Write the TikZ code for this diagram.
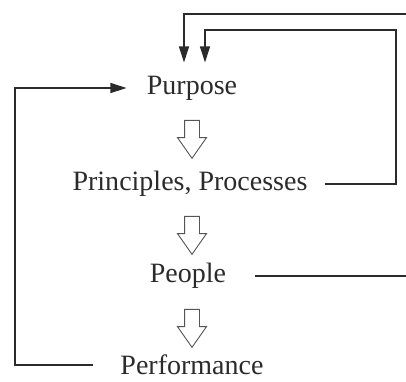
\documentclass[tikz,border=0pt]{standalone}
\usepackage{fontspec}
\setmainfont{Liberation Serif}
\usepackage{tikz}
\usetikzlibrary{shapes.arrows,arrows.meta}
\usepackage{xcolor}
\definecolor{ink}{HTML}{2B2B2B}

\begin{document}
\begin{tikzpicture}[x=0.5pt,y=-0.5pt,
  lbl/.style={inner sep=0pt,text=ink,font=\fontsize{14}{16}\selectfont},
  hollow/.style={single arrow,draw=ink!80,line width=0.45pt,fill=white,
    rotate=-90,minimum height=19pt,inner sep=3.5pt,
    single arrow head extend=3.5pt,single arrow tip angle=70},
  fb/.style={draw=ink,line width=0.7pt,-{Triangle[length=8pt,width=5pt]}}]
\useasboundingbox (0,0) rectangle (406,381);
\node[lbl] (purpose) at (192,88) {Purpose};
\node[lbl] (princ) at (190,184) {Principles, Processes};
\node[lbl] (people) at (188,276) {People};
\node[lbl] (perf) at (192,365) {Performance};
\node[hollow] (h1) at (192,134) {};
\node[hollow] (h2) at (192,230) {};
\node[hollow] (h3) at (192,323) {};
% feedback loops
\draw[fb] ([xshift=14pt]people.east) -| (407,14) -| ([xshift=-4pt,yshift=6.5pt]purpose.north);
\draw[fb] ([xshift=8.5pt]princ.east) -| (396,30) -| ([xshift=6.5pt,yshift=6.5pt]purpose.north);
\draw[fb] ([xshift=-13.5pt]perf.west) -| (15,88) -- ([xshift=-10pt]purpose.west);
\end{tikzpicture}
\end{document}
